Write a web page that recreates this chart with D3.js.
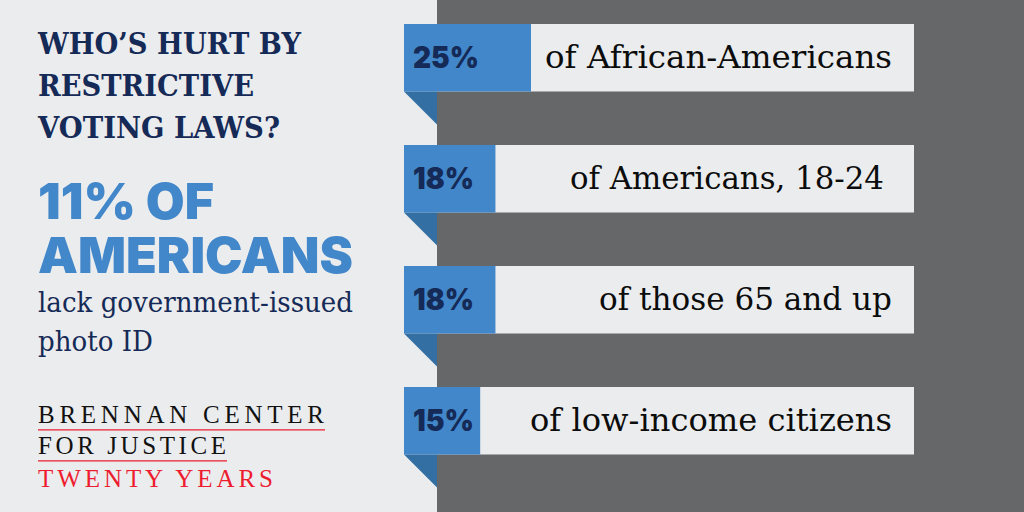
<!DOCTYPE html>
<html>

<head>
    <title>Who's hurt by restrictive voting laws?</title>
    <script src="https://cdn.jsdelivr.net/npm/d3@7"></script>
    <style>
        html, body { margin: 0; padding: 0; background: #ebecee; overflow: hidden; }
        svg { display: block; }
    </style>
</head>

<body>
    <svg id="chart" width="1024" height="512"></svg>
    <script>
        const groups = ['of African-Americans', 'of Americans, 18-24', 'of those 65 and up', 'of low-income citizens'];
        const shares = [25, 18, 18, 15];
        const headingLines = ['WHO\u2019S HURT BY', 'RESTRICTIVE', 'VOTING LAWS?'];
        const bigLines = ['11% OF', 'AMERICANS'];
        const subLines = ['lack government-issued', 'photo ID'];

        const slab = '"DejaVu Serif", serif';
        const sans = 'Inter, "Open Sans", sans-serif';
        const trajan = '"Liberation Serif", serif';
        const navy = '#152a56', blue = '#4287c9', foldBlue = '#336fa3', grey = '#666769', pale = '#ebecee', red = '#ed1c2e';

        const svg = d3.select('#chart');
        svg.append('rect').attr('width', 1024).attr('height', 512).attr('fill', pale);
        svg.append('rect').attr('x', 437).attr('width', 587).attr('height', 512).attr('fill', grey);

        // bars share a zero at x=404, 1% is about 5.08px
        const x = d3.scaleLinear().domain([0, 25]).range([404, 531]);
        const y = d3.scalePoint().domain(groups).range([24, 387]);
        const rowH = 67.5;

        const rows = svg.selectAll('g.row')
            .data(groups.map((g, i) => ({ group: g, share: shares[i] })))
            .join('g')
            .attr('class', 'row')
            .attr('transform', d => `translate(0,${y(d.group)})`);

        rows.append('rect')
            .attr('x', x(0)).attr('width', 914 - x(0)).attr('height', rowH).attr('fill', pale);
        rows.append('rect')
            .attr('x', x(0)).attr('width', d => x(d.share) - x(0)).attr('height', rowH).attr('fill', blue);
        rows.append('path')
            .attr('d', d3.line()([[x(0), rowH], [437, rowH], [437, rowH + 33]]))
            .attr('fill', foldBlue);

        rows.append('text')
            .attr('x', 413).attr('y', 44)
            .attr('font-family', sans).attr('font-weight', 900).attr('font-size', 30).attr('fill', navy)
            .attr('textLength', d => d.share === 25 ? 66 : 61).attr('lengthAdjust', 'spacingAndGlyphs')
            .text(d => d.share + '%');

        const labelX = [892, 884, 892, 892], labelW = [347, 314, 293, 362];
        rows.append('text')
            .attr('x', (d, i) => labelX[i] - labelW[i]).attr('y', 44)
            .attr('font-family', slab).attr('font-size', 31).attr('fill', '#0c0c0c')
            .attr('textLength', (d, i) => labelW[i]).attr('lengthAdjust', 'spacingAndGlyphs')
            .text(d => d.group);

        // left panel
        const headW = [263, 216, 242], headY = [53.5, 95.5, 137.5];
        svg.selectAll('text.head').data(headingLines).join('text')
            .attr('class', 'head').attr('x', 38).attr('y', (d, i) => headY[i])
            .attr('font-family', slab).attr('font-weight', 700).attr('font-size', 29).attr('fill', navy)
            .attr('textLength', (d, i) => headW[i]).attr('lengthAdjust', 'spacingAndGlyphs')
            .text(d => d);

        const bigW = [176, 315], bigY = [219, 272.5];
        svg.selectAll('text.big').data(bigLines).join('text')
            .attr('class', 'big').attr('x', 38).attr('y', (d, i) => bigY[i])
            .attr('font-family', sans).attr('font-weight', 900).attr('font-size', 50).attr('fill', blue)
            .attr('textLength', (d, i) => bigW[i]).attr('lengthAdjust', 'spacingAndGlyphs')
            .text(d => d);

        const subW = [315, 115], subY = [312, 350.5];
        svg.selectAll('text.sub').data(subLines).join('text')
            .attr('class', 'sub').attr('x', 38).attr('y', (d, i) => subY[i])
            .attr('font-family', slab).attr('font-size', 27).attr('fill', navy)
            .attr('textLength', (d, i) => subW[i]).attr('lengthAdjust', 'spacingAndGlyphs')
            .text(d => d);

        // logo
        const logo = [
            { text: 'BRENNAN CENTER', y: 422.7, w: 287, fill: '#111111', rule: 429.8 },
            { text: 'FOR JUSTICE', y: 454, w: 189, fill: '#111111', rule: 460.8 },
            { text: 'TWENTY YEARS', y: 486.7, w: 236, fill: red }
        ];
        svg.selectAll('text.logo').data(logo).join('text')
            .attr('class', 'logo').attr('x', 38).attr('y', d => d.y)
            .attr('font-family', trajan).attr('font-size', 25).attr('fill', d => d.fill)
            .attr('textLength', d => d.w - 1).attr('lengthAdjust', 'spacing')
            .text(d => d.text);
        svg.selectAll('line.rule').data(logo.filter(d => d.rule)).join('line')
            .attr('class', 'rule')
            .attr('x1', 38).attr('x2', d => 38 + d.w)
            .attr('y1', d => d.rule).attr('y2', d => d.rule)
            .attr('stroke', red).attr('stroke-width', 1.3);
    </script>
</body>

</html>
